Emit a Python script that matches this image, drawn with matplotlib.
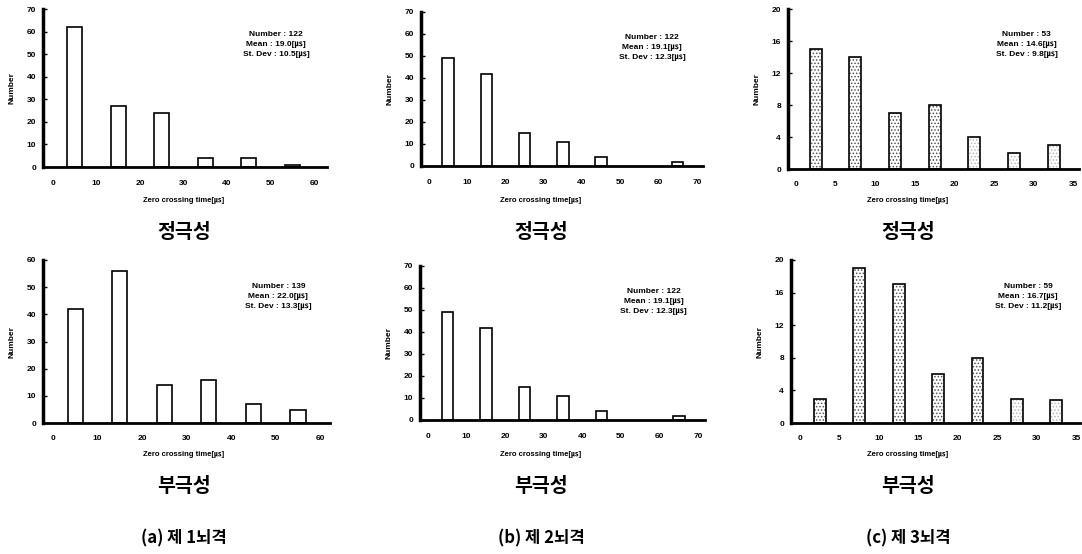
import numpy as np
import matplotlib
matplotlib.use('Agg')
import matplotlib.pyplot as plt

plt.rcParams['font.family'] = ['Liberation Sans', 'Noto Sans CJK KR', 'DejaVu Sans']
plt.rcParams['hatch.linewidth'] = 0.7

# data
centers_10 = [5, 15, 25, 35, 45, 55]
centers_10b = [5, 15, 25, 35, 45, 65]
centers_5 = [2.5, 7.5, 12.5, 17.5, 22.5, 27.5, 32.5]

pos_1 = [62, 27, 24, 4, 4, 1]
neg_1 = [42, 56, 14, 16, 7, 4.7]
pos_2 = [49, 42, 15, 11, 4, 2]
neg_2 = [49, 42, 15, 11, 4, 2]
pos_3 = [15, 14, 7, 8, 4, 2, 3]
neg_3 = [3, 19, 17, 6, 8, 3, 2.8]

stats_pos = [["Number : 122", "Mean : 19.0[㎲]", "St. Dev : 10.5[㎲]"],
             ["Number : 122", "Mean : 19.1[㎲]", "St. Dev : 12.3[㎲]"],
             ["Number : 53", "Mean : 14.6[㎲]", "St. Dev : 9.8[㎲]"]]
stats_neg = [["Number : 139", "Mean : 22.0[㎲]", "St. Dev : 13.3[㎲]"],
             ["Number : 122", "Mean : 19.1[㎲]", "St. Dev : 12.3[㎲]"],
             ["Number : 59", "Mean : 16.7[㎲]", "St. Dev : 11.2[㎲]"]]
captions = ["(a) 제 1뇌격", "(b) 제 2뇌격", "(c) 제 3뇌격"]

W, H = 1082, 554
fig = plt.figure(figsize=(W / 100, H / 100), dpi=100)


def px_axes(l, r, t, b):
    return fig.add_axes([l / W, 1 - b / H, (r - l) / W, (b - t) / H])


def draw(ax, x, y, width, xlim, ymax, ystep, xticks, stats, shades=None):
    for i, (xi, yi) in enumerate(zip(x, y)):
        if shades:
            # stippled fill: hatch takes the edge colour, outline drawn on top
            ax.bar(xi, yi, width=width, color='white', edgecolor=shades[i],
                   linewidth=0, hatch='.....')
            ax.bar(xi, yi, width=width, fill=False, edgecolor='black', linewidth=1.2)
        else:
            ax.bar(xi, yi, width=width, color='white', edgecolor='black', linewidth=1.2)
    ax.set_xlim(*xlim)
    ax.set_ylim(0, ymax)
    ax.set_yticks(np.arange(0, ymax + 1, ystep))
    ax.set_xticks(xticks)
    for s in ['top', 'right']:
        ax.spines[s].set_visible(False)
    ax.spines['left'].set_linewidth(2.5)
    ax.spines['bottom'].set_linewidth(2.0)
    ax.tick_params(axis='y', direction='in', length=3, width=1, labelsize=6, pad=5)
    ax.tick_params(axis='x', length=0, labelsize=6, pad=9)
    for lab in ax.get_xticklabels() + ax.get_yticklabels():
        lab.set_fontweight('bold')
    ax.set_ylabel('Number', fontsize=6, fontweight='bold', labelpad=8)
    ax.text(0.82, 0.86, '\n'.join(stats), transform=ax.transAxes, ha='center',
            va='top', fontsize=6, fontweight='bold', linespacing=1.6)


ax = px_axes(43, 327, 9, 167)
draw(ax, centers_10, pos_1, 3.4, (-2.3, 63), 70, 10, range(0, 61, 10), stats_pos[0])
ax = px_axes(421, 703, 12, 166)
draw(ax, centers_10b, pos_2, 3.0, (-2.1, 71.6), 70, 10, range(0, 71, 10), stats_pos[1])
ax = px_axes(788, 1079, 9, 169)
draw(ax, centers_5, pos_3, 1.5, (-1.0, 35.7), 20, 4, range(0, 36, 5), stats_pos[2],
     ['#555555'] * 4 + ['#bbbbbb'] * 3)

ax = px_axes(43, 330, 260, 423)
draw(ax, centers_10, neg_1, 3.4, (-2.25, 62.2), 60, 10, range(0, 61, 10), stats_neg[0])
ax = px_axes(420, 705, 266, 420)
draw(ax, centers_10b, neg_2, 3.0, (-2.1, 71.8), 70, 10, range(0, 71, 10), stats_neg[1])
ax = px_axes(791, 1080, 260, 423)
draw(ax, centers_5, neg_3, 1.5, (-1.14, 35.5), 20, 4, range(0, 36, 5), stats_neg[2],
     ['#555555'] * 5 + ['#bbbbbb'] * 2)

xs = [184, 541, 908]
for i, xc in enumerate(xs):
    fig.text(xc / W, 1 - 200 / H, 'Zero crossing time[㎲]', ha='center', va='center',
             fontsize=5.5, fontweight='bold')
    fig.text(xc / W, 1 - 233 / H, '정극성', ha='center', va='center',
             fontsize=14, fontweight='bold', family=['Noto Sans CJK KR'])
    fig.text(xc / W, 1 - 455 / H, 'Zero crossing time[㎲]', ha='center', va='center',
             fontsize=5.5, fontweight='bold')
    fig.text(xc / W, 1 - 486 / H, '부극성', ha='center', va='center',
             fontsize=14, fontweight='bold', family=['Noto Sans CJK KR'])
    fig.text(xc / W, 1 - 538 / H, captions[i], ha='center', va='center',
             fontsize=12, fontweight='bold', family=['Noto Sans CJK KR'])

fig.savefig('out.png', dpi=100)
